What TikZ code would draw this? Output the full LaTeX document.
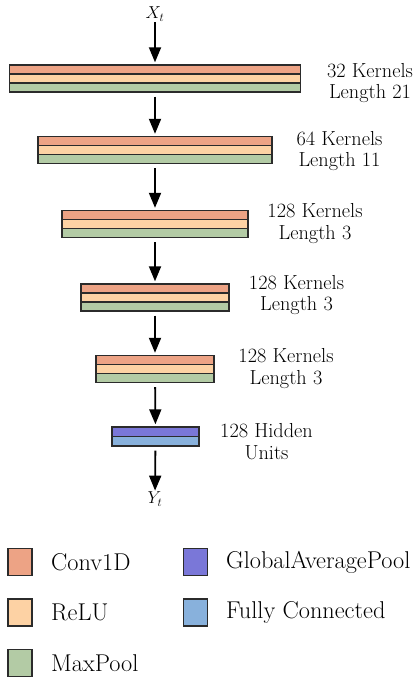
\documentclass[tikz,border=0pt]{standalone}
\usetikzlibrary{arrows.meta,fit}
\definecolor{cconv}{HTML}{EDA385}
\definecolor{crelu}{HTML}{FDD2A4}
\definecolor{cpool}{HTML}{B3CBA5}
\definecolor{cgap}{HTML}{7A77D8}
\definecolor{cfc}{HTML}{88B1DC}
\definecolor{cedge}{HTML}{2B2B2B}
\tikzset{
  band/.style={draw=cedge, line width=1.4pt},
  layerbox/.style={draw=cedge, line width=1.4pt, inner sep=0pt},
  arr/.style={-{Triangle[length=15pt,width=12pt]}, line width=1.8pt, black},
  lbl/.style={align=center, font=\fontsize{20.3}{21.5}\selectfont, inner sep=0pt},
  leg/.style={anchor=west, font=\fontsize{24.3}{27}\selectfont, inner sep=0pt},
  sw/.style={draw=cedge, line width=1.4pt, minimum width=24pt, minimum height=27pt, inner sep=0pt},
  mlbl/.style={font=\fontsize{18}{20}\selectfont, inner sep=1pt}
}
\newcommand{\cnnlayer}[4]{%
  \fill[cconv] (#2,#4) rectangle (#3,#4+9);
  \fill[crelu] (#2,#4+9) rectangle (#3,#4+18);
  \fill[cpool] (#2,#4+18) rectangle (#3,#4+27);
  \draw[band] (#2,#4+9) -- (#3,#4+9) (#2,#4+18) -- (#3,#4+18);
  \node[layerbox, fit={(#2,#4) (#3,#4+27)}] (#1) {};
}
\begin{document}
\begin{tikzpicture}[x=1pt,y=-1pt]
\useasboundingbox (0,0) rectangle (417,680);
\node[mlbl] (X) at (155,14) {$X_t$};
\cnnlayer{L1}{9.5}{300.5}{65}
\cnnlayer{L2}{38}{272}{136.5}
\cnnlayer{L3}{62}{248}{210.5}
\cnnlayer{L4}{81}{229}{284}
\cnnlayer{L5}{96}{214}{355.5}
% dense layer
\fill[cgap] (112,427) rectangle (199,436.5);
\fill[cfc] (112,436.5) rectangle (199,446);
\draw[band] (112,436.5) -- (199,436.5);
\node[layerbox, fit={(112,427) (199,446)}] (D) {};
\node[mlbl] (Y) at (155,499) {$Y_t$};
% arrows
\draw[arr, shorten >=2pt] (X) -- (L1);
\draw[arr, shorten <=4pt, shorten >=2pt] (L1) -- (L2);
\draw[arr, shorten <=4pt, shorten >=2pt] (L2) -- (L3);
\draw[arr, shorten <=4pt, shorten >=2pt] (L3) -- (L4);
\draw[arr, shorten <=4pt, shorten >=2pt] (L4) -- (L5);
\draw[arr, shorten <=4pt, shorten >=2pt] (L5) -- (D);
\draw[arr, shorten <=4pt, shorten >=0pt] (D) -- (Y);
% labels
\node[lbl] (t1) at (370,83) {32 Kernels\\Length 21};
\node[lbl] (t2) at (339.5,151) {64 Kernels\\Length 11};
\node[lbl] (t3) at (315,223.5) {128 Kernels\\Length 3};
\node[lbl] (t4) at (296.5,295) {128 Kernels\\Length 3};
\node[lbl] (t5) at (286,368.5) {128 Kernels\\Length 3};
\node[lbl] (t6) at (266.5,441.5) {128 Hidden\\Units};
% legend
\node[sw, fill=cconv] (s1) at (20,562) {};
\node[leg] (k1) at (51,562) {Conv1D};
\node[sw, fill=crelu] (s2) at (20,612.5) {};
\node[leg] (k2) at (51,612.5) {ReLU};
\node[sw, fill=cpool] (s3) at (20,663) {};
\node[leg] (k3) at (51,663) {MaxPool};
\node[sw, fill=cgap] (s4) at (195.5,562) {};
\node[leg] (k4) at (226,562) {GlobalAveragePool};
\node[sw, fill=cfc] (s5) at (195.5,612.5) {};
\node[leg] (k5) at (226,612.5) {Fully Connected};
\end{tikzpicture}
\end{document}
